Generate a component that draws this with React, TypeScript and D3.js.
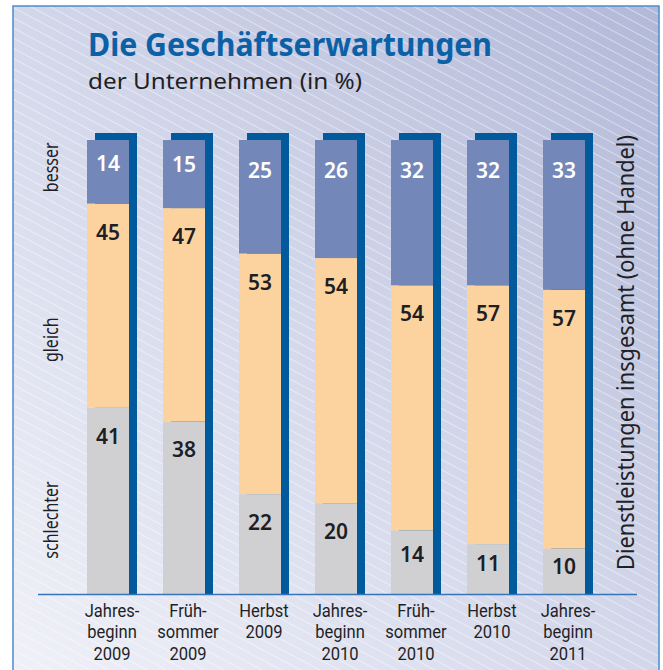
import React from "react";
import * as d3 from "d3";

const categories = [
  "Jahres-|beginn|2009",
  "Früh-|sommer|2009",
  "Herbst|2009",
  "Jahres-|beginn|2010",
  "Früh-|sommer|2010",
  "Herbst|2010",
  "Jahres-|beginn|2011",
];
const besser = [14, 15, 25, 26, 32, 32, 33];
const gleich = [45, 47, 53, 54, 54, 57, 57];
const schlechter = [41, 38, 22, 20, 14, 11, 10];

const seriesNames = ["schlechter", "gleich", "besser"];
const seriesColors: Record<string, string> = {
  schlechter: "#d0d0d3",
  gleich: "#fcd39f",
  besser: "#7487b9",
};
const labelColors: Record<string, string> = {
  schlechter: "#1e1e24",
  gleich: "#1e1e24",
  besser: "#ffffff",
};
const sideLabels = [
  { name: "besser", value: 94 },
  { name: "gleich", value: 56 },
  { name: "schlechter", value: 16.3 },
];

const W = 663;
const H = 670;
const FONT = "'Noto Sans', 'Open Sans', sans-serif";

export default function App() {
  const rows = categories.map((c, i) => ({
    cat: c,
    schlechter: schlechter[i],
    gleich: gleich[i],
    besser: besser[i],
  }));
  const stack = d3.stack<any>().keys(seriesNames)(rows);

  const x = d3
    .scaleBand<string>()
    .domain(categories)
    .range([70, 602])
    .paddingInner(34 / 76)
    .paddingOuter(17 / 76);
  const y = d3.scaleLinear().domain([0, 100]).range([594, 140]);
  const bw = x.bandwidth();
  const shadowDx = 8;
  const shadowDy = 7;

  return (
    <svg
      width={W}
      height={H}
      style={{ position: "absolute", left: 0, top: 0 }}
      fontFamily={FONT}
    >
      <defs>
        <linearGradient id="bg" x1="0" y1="1" x2="1" y2="0">
          <stop offset="0" stopColor="#f0f1f8" />
          <stop offset="0.5" stopColor="#d3d7ea" />
          <stop offset="1" stopColor="#b2b9d8" />
        </linearGradient>
        <pattern
          id="hatch"
          patternUnits="userSpaceOnUse"
          width="20"
          height="9"
          patternTransform="rotate(28)"
        >
          <line x1="0" y1="0.5" x2="20" y2="0.5" stroke="#ffffff" strokeOpacity="0.55" strokeWidth="0.8" />
        </pattern>
      </defs>
      <rect x={0} y={0} width={W} height={H} fill="#ffffff" />
      <rect x={13} y={6} width={646} height={H} fill="url(#bg)" />
      <rect x={13} y={6} width={646} height={H} fill="url(#hatch)" />
      <rect x={13} y={6} width={646} height={H + 10} fill="none" stroke="#4d8ccb" strokeWidth={1.5} />

      <text x={88} y={56} fontSize={32} fontWeight={700} fill="#0c61a6" textLength={404} lengthAdjust="spacingAndGlyphs">
        Die Geschäftserwartungen
      </text>
      <text x={88} y={89} fontSize={22} fill="#1f1f26" textLength={274} lengthAdjust="spacingAndGlyphs">
        der Unternehmen (in %)
      </text>

      {/* shadows */}
      {categories.map((c) => (
        <rect
          key={"sh" + c}
          x={(x(c) as number) + shadowDx}
          y={y(100) - shadowDy}
          width={bw}
          height={y(0) - y(100) + shadowDy}
          fill="#005a9c"
        />
      ))}

      {/* stacked segments */}
      {stack.map((s) =>
        s.map((d: any, i: number) => (
          <rect
            key={s.key + i}
            x={x(categories[i]) as number}
            y={y(d[1])}
            width={bw}
            height={y(d[0]) - y(d[1])}
            fill={seriesColors[s.key]}
          />
        ))
      )}

      {/* value labels */}
      {stack.map((s) =>
        s.map((d: any, i: number) => {
          const top = y(d[1]);
          const h = y(d[0]) - y(d[1]);
          const off = Math.min(s.key === "besser" ? 38 : 36, 12 + 0.3 * h);
          return (
            <text
              key={"l" + s.key + i}
              x={(x(categories[i]) as number) + bw / 2}
              y={top + off}
              textAnchor="middle"
              fontSize={21}
              fontWeight={600}
              fill={labelColors[s.key]}
            >
              {d[1] - d[0]}
            </text>
          );
        })
      )}

      {/* baseline */}
      <line x1={38} x2={637} y1={594.5} y2={594.5} stroke="#3574b6" strokeWidth={1.5} />

      {/* category labels */}
      {categories.map((c) => {
        const cx = (x(c) as number) + (bw + shadowDx) / 2;
        return (
          <g key={"t" + c} transform={`translate(${cx},0)`}>
            {c.split("|").map((line, j) => (
              <text
                key={j}
                x={0}
                y={617 + j * 21.5}
                textAnchor="middle"
                fontSize={18}
                fontFamily="Roboto, sans-serif"
                fill="#1f1f26"
                transform="scale(0.92,1)"
              >
                {line}
              </text>
            ))}
          </g>
        );
      })}

      {/* side labels */}
      {sideLabels.map((l) => (
        <text
          key={l.name}
          transform={`translate(58,${y(l.value)}) rotate(-90) scale(0.8,1)`}
          textAnchor="middle"
          fontSize={20}
          fill="#1f1f26"
        >
          {l.name}
        </text>
      ))}

      <text
        transform={`translate(634,${(135 + 570) / 2}) rotate(-90)`}
        textAnchor="middle"
        fontSize={24}
        fill="#1f1f26"
        textLength={435}
        lengthAdjust="spacingAndGlyphs"
      >
        Dienstleistungen insgesamt (ohne Handel)
      </text>
    </svg>
  );
}
